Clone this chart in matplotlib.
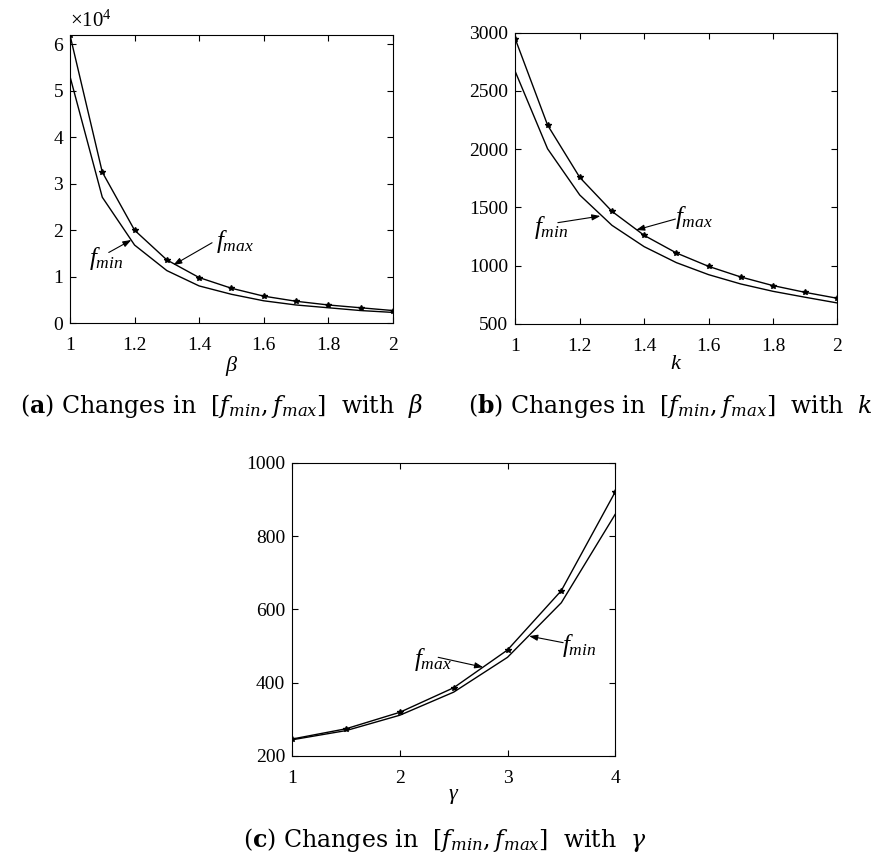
import matplotlib
matplotlib.use("Agg")
import matplotlib.pyplot as plt

plt.rcParams['font.family'] = ['Liberation Serif', 'DejaVu Serif']
plt.rcParams['mathtext.fontset'] = 'custom'
plt.rcParams['mathtext.rm'] = 'Liberation Serif'
plt.rcParams['mathtext.it'] = 'Liberation Serif:italic'
plt.rcParams['mathtext.bf'] = 'Liberation Serif:bold'

# data
beta = [1.0, 1.1, 1.2, 1.3, 1.4, 1.5, 1.6, 1.7, 1.8, 1.9, 2.0]
fmax_beta = [62000, 32500, 20000, 13600, 9800, 7500, 5800, 4700, 3900, 3300, 2700]
fmin_beta = [53100, 27100, 16800, 11300, 8000, 6200, 4800, 3900, 3300, 2700, 2300]

k_vals = [1.0, 1.1, 1.2, 1.3, 1.4, 1.5, 1.6, 1.7, 1.8, 1.9, 2.0]
fmax_k = [2943, 2206, 1757, 1466, 1260, 1109, 994, 903, 829, 771, 720]
fmin_k = [2663, 2003, 1606, 1346, 1163, 1026, 923, 843, 780, 729, 680]

gamma = [1.0, 1.5, 2.0, 2.5, 3.0, 3.5, 4.0]
fmax_gamma = [246, 274, 319, 386, 489, 651, 920]
fmin_gamma = [244, 269, 311, 374, 469, 618, 859]

fig = plt.figure(figsize=(8.75, 8.57), dpi=100)
ax1 = fig.add_axes([0.080, 0.623, 0.369, 0.336])
ax2 = fig.add_axes([0.589, 0.622, 0.368, 0.340])
ax3 = fig.add_axes([0.334, 0.118, 0.369, 0.342])

tick_fs = 14
lab_fs = 16
ann_fs = 18


def base(ax, x, fmax, fmin):
    ax.plot(x, fmax, color='black', lw=1.0, marker='*', ms=4)
    ax.plot(x, fmin, color='black', lw=1.0)
    ax.tick_params(direction='in', top=True, right=True, labelsize=tick_fs,
                   length=4, width=0.8, pad=5)
    ax.tick_params(axis='x', pad=10)
    for s in ax.spines.values():
        s.set_linewidth(0.8)


def arrow(ax, tail, tip):
    ax.annotate('', xy=tip, xytext=tail,
                arrowprops=dict(arrowstyle='-|>,head_length=0.5,head_width=0.18',
                                color='black', lw=0.8, shrinkA=0, shrinkB=0))


# (a)
base(ax1, beta, fmax_beta, fmin_beta)
ax1.set_xlim(1, 2)
ax1.set_ylim(0, 62000)
ax1.set_xticks([1, 1.2, 1.4, 1.6, 1.8, 2])
ax1.set_xticklabels(['1', '1.2', '1.4', '1.6', '1.8', '2'])
ax1.set_yticks([0, 10000, 20000, 30000, 40000, 50000, 60000])
ax1.set_yticklabels(['0', '1', '2', '3', '4', '5', '6'])
ax1.text(0.0, 1.01, r'$\times10^{4}$', transform=ax1.transAxes,
         fontsize=15, ha='left', va='bottom')
ax1.set_xlabel(r'$\beta$', fontsize=lab_fs, labelpad=0)
ax1.text(1.058, 14000, r'$f_{min}$', fontsize=ann_fs, ha='left', va='center')
arrow(ax1, (1.12, 15200), (1.19, 17900))
ax1.text(1.452, 17500, r'$f_{max}$', fontsize=ann_fs, ha='left', va='center')
arrow(ax1, (1.44, 17300), (1.32, 12500))

# (b)
base(ax2, k_vals, fmax_k, fmin_k)
ax2.set_xlim(1, 2)
ax2.set_ylim(500, 3000)
ax2.set_xticks([1, 1.2, 1.4, 1.6, 1.8, 2])
ax2.set_xticklabels(['1', '1.2', '1.4', '1.6', '1.8', '2'])
ax2.set_yticks([500, 1000, 1500, 2000, 2500, 3000])
ax2.set_xlabel(r'$k$', fontsize=lab_fs, labelpad=0)
ax2.text(1.058, 1331, r'$f_{min}$', fontsize=ann_fs, ha='left', va='center')
arrow(ax2, (1.132, 1369), (1.264, 1426))
ax2.text(1.497, 1417, r'$f_{max}$', fontsize=ann_fs, ha='left', va='center')
arrow(ax2, (1.497, 1400), (1.375, 1306))

# (c)
base(ax3, gamma, fmax_gamma, fmin_gamma)
ax3.set_xlim(1, 4)
ax3.set_ylim(200, 1000)
ax3.set_xticks([1, 2, 3, 4])
ax3.set_yticks([200, 400, 600, 800, 1000])
ax3.set_xlabel(r'$\gamma$', fontsize=lab_fs, labelpad=0)
ax3.text(2.13, 464, r'$f_{max}$', fontsize=ann_fs, ha='left', va='center')
arrow(ax3, (2.356, 469), (2.774, 442))
ax3.text(3.51, 500, r'$f_{min}$', fontsize=ann_fs, ha='left', va='center')
arrow(ax3, (3.517, 509), (3.201, 527))

# captions
cap_kw = dict(fontsize=17, family='DejaVu Serif', math_fontfamily='dejavuserif',
              ha='center', va='baseline')
fig.text(222 / 875, 1 - 413 / 857,
         r'($\mathbf{a}$) Changes in  $[f_{min}, f_{max}]$  with  $\beta$', **cap_kw)
fig.text(670 / 875, 1 - 413 / 857,
         r'($\mathbf{b}$) Changes in  $[f_{min}, f_{max}]$  with  $k$', **cap_kw)
fig.text(445 / 875, 1 - 847 / 857,
         r'($\mathbf{c}$) Changes in  $[f_{min}, f_{max}]$  with  $\gamma$', **cap_kw)

fig.savefig('out.png', dpi=100)
